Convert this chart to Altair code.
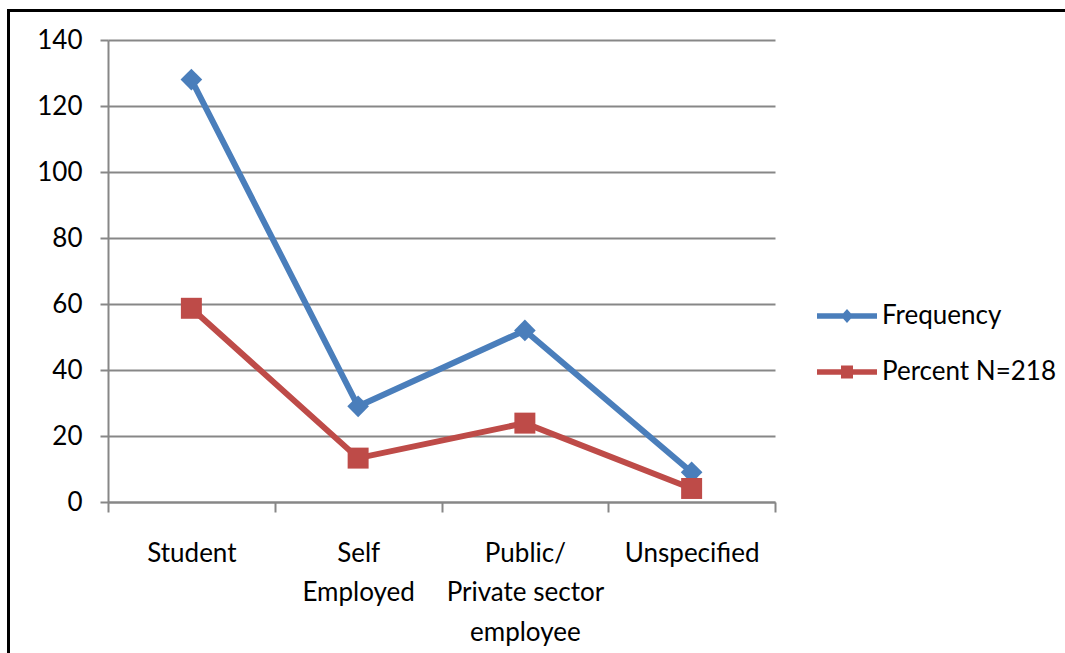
import altair as alt
import pandas as pd

# Occupation of respondents
categories = ["Student", "Self\nEmployed", "Public/\nPrivate sector\nemployee", "Unspecified"]
frequency = [128, 29, 52, 9]
percent = [58.7, 13.3, 23.9, 4.1]
series_names = ["Frequency", "Percent N=218"]
series_colors = ["#4A7EBB", "#BE4B48"]
y_ticks = [0, 20, 40, 60, 80, 100, 120, 140]

rows = []
for cat, f, p in zip(categories, frequency, percent):
    rows.append({"category": cat, "series": series_names[0], "value": f})
    rows.append({"category": cat, "series": series_names[1], "value": p})
df = pd.DataFrame(rows)

FONT = "Lato"
W, H = 667, 462

# legend glyphs: a line segment with the series marker on it
diamond_line = (
    "M -3 -0.28 L 3 -0.28 L 3 0.28 L -3 0.28 Z "
    "M 0 -0.7 L 0.62 0 L 0 0.7 L -0.62 0 Z"
)
square_line = (
    "M -3 -0.28 L 3 -0.28 L 3 0.28 L -3 0.28 Z "
    "M -0.6 -0.65 L 0.6 -0.65 L 0.6 0.65 L -0.6 0.65 Z"
)

x_enc = alt.X(
    "category:N",
    sort=categories,
    scale=alt.Scale(paddingInner=0, paddingOuter=0),
    axis=alt.Axis(
        title=None,
        labelAngle=0,
        labelExpr="split(datum.label, '\\n')",
        labelFont=FONT,
        labelFontSize=26,
        labelColor="#000000",
        labelLineHeight=39.5,
        labelPadding=28,
        labelLimit=400,
        labelOverlap=False,
        tickBand="extent",
        tickSize=10,
        tickColor="#878787",
        tickWidth=2,
        domainColor="#878787",
        domainWidth=2,
        grid=False,
    ),
)
y_enc = alt.Y(
    "value:Q",
    scale=alt.Scale(domain=[0, 140], nice=False),
    axis=alt.Axis(
        title=None,
        values=y_ticks,
        labelFont=FONT,
        labelFontSize=26,
        labelColor="#000000",
        labelPadding=18,
        tickSize=8,
        tickColor="#878787",
        tickWidth=2,
        domainColor="#878787",
        domainWidth=2,
        gridColor="#878787",
        gridWidth=2,
    ),
)
color_scale = alt.Scale(domain=series_names, range=series_colors)

base = alt.Chart(df)

lines = base.mark_line(strokeWidth=6).encode(
    x=x_enc, y=y_enc, color=alt.Color("series:N", scale=color_scale, legend=None)
)

freq_pts = base.transform_filter(alt.datum.series == series_names[0]).mark_point(
    filled=True, opacity=1, shape="diamond", size=470
).encode(x=x_enc, y=y_enc, color=alt.Color("series:N", scale=color_scale, legend=None))

pct_pts = base.transform_filter(alt.datum.series == series_names[1]).mark_point(
    filled=True, opacity=1, shape="square", size=440
).encode(x=x_enc, y=y_enc, color=alt.Color("series:N", scale=color_scale, legend=None))

legend_props = dict(
    title=None,
    orient="none",
    legendX=726,
    legendY=263,
    symbolSize=400,
    symbolStrokeWidth=0,
    symbolOpacity=1,
    labelFont=FONT,
    labelFontSize=26,
    labelColor="#000000",
    labelOffset=22,
    labelLimit=400,
    rowPadding=30,
)

# invisible layer that only carries the legend
legend_layer = base.mark_point(filled=True, opacity=0).encode(
    x=x_enc,
    y=y_enc,
    color=alt.Color("series:N", scale=color_scale, legend=alt.Legend(**legend_props)),
    shape=alt.Shape(
        "series:N",
        scale=alt.Scale(domain=series_names, range=[diamond_line, square_line]),
        legend=alt.Legend(**legend_props),
    ),
)

# frame lines along the top and left edge of the figure
frame_top = base.mark_rule(color="#000000", strokeWidth=3, clip=False).encode(
    x=alt.value(-101), x2=alt.value(960), y=alt.value(-29.5)
)
frame_left = base.mark_rule(color="#000000", strokeWidth=3, clip=False).encode(
    x=alt.value(-99.5), y=alt.value(-31), y2=alt.value(620)
)

chart = (
    alt.layer(legend_layer, lines, freq_pts, pct_pts, frame_top, frame_left)
    .properties(
        width=W,
        height=H,
        autosize=alt.AutoSizeParams(type="none"),
        padding={"left": 108, "top": 40, "right": 290, "bottom": 151},
        background="#ffffff",
    )
    .configure_view(stroke=None)
)

chart.save("out.html", embed_options={"renderer": "svg", "actions": False})
